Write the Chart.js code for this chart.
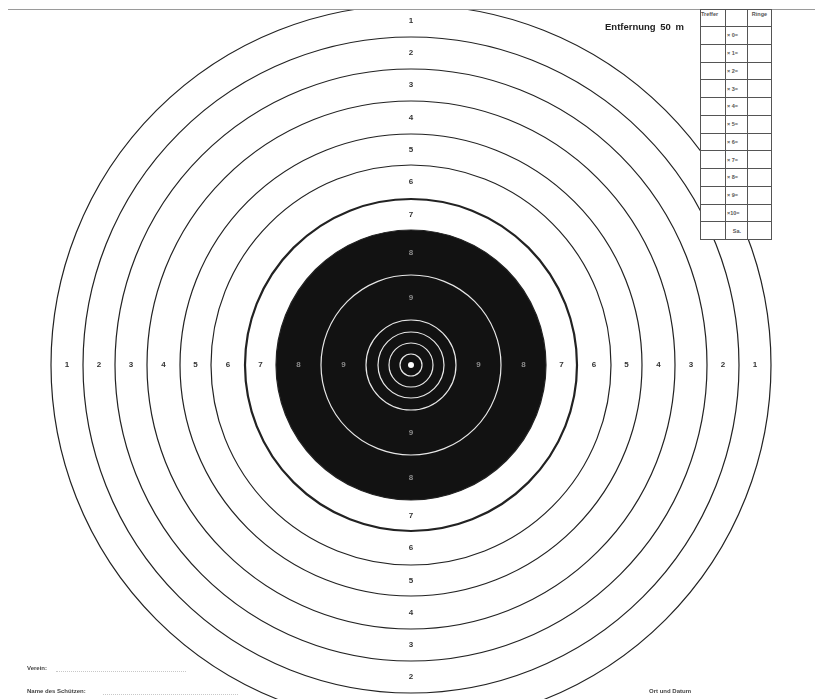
<!DOCTYPE html>
<html lang="de">
<head>
    <meta charset="UTF-8">
    <title>Scheibe 50 m</title>
    <script src="https://cdn.jsdelivr.net/npm/chart.js"></script>
    <style>
        body { margin: 0; width: 815px; height: 699px; overflow: hidden; background: #fff; font-family: 'Liberation Sans', Arial, sans-serif; }
        #wrap { position: absolute; left: 0; top: 0; }
        #target { display: block; }
        .topcut { position: absolute; left: 0; top: 0; width: 815px; height: 9px; background: #fff; }
        .topline { position: absolute; left: 8px; top: 9px; width: 807px; height: 1px; background: #9a9a9a; }
        .dist { position: absolute; left: 605px; top: 21px; font-size: 9.5px; font-weight: bold; color: #222; word-spacing: 2px; }
        #score { position: absolute; left: 700px; top: 9px; border-collapse: collapse; background: #fff; }
        #score td { border: 1px solid #555; padding: 0; font-size: 5.5px; font-weight: bold; color: #555; height: 16.75px; }
        #score tr.head td { height: 15px; vertical-align: top; padding-top: 1px; }
        #score td.c1 { width: 24px; } #score td.c2 { width: 20px; text-align: left; padding-left: 1px; } #score td.c3 { width: 23px; text-align: center; }
        .foot { position: absolute; font-size: 6px; font-weight: bold; color: #444; }
        .dots { position: absolute; height: 0; border-bottom: 1px dotted #c8c8c8; }
    </style>
</head>
<body>
    <div id="wrap"><canvas id="target" width="815" height="730"></canvas></div>
    <div class="topcut"></div>
    <div class="topline"></div>
    <div class="dist">Entfernung 50 m</div>
    <table id="score"><tbody></tbody></table>
    <div class="foot" style="left:27px; top:665px;">Verein:</div>
    <div class="dots" style="left:56px; top:671px; width:130px;"></div>
    <div class="foot" style="left:27px; top:688px;">Name des Schützen:</div>
    <div class="dots" style="left:103px; top:694px; width:135px;"></div>
    <div class="foot" style="left:649px; top:688px;">Ort und Datum</div>

    <script>
        // ring boundaries (radius, same unit as the scale max)
        const ringRadii = [11, 22, 33, 45, 90, 135, 166, 200, 231, 264, 296, 328, 360];
        // black aiming disk (ring 8 outer edge)
        const blackDisk = [135];
        // numbered rings: label, outer and inner boundary
        const ringNumbers = ['1', '2', '3', '4', '5', '6', '7', '8', '9'];
        const ringOuter = [360, 328, 296, 264, 231, 200, 166, 135, 90];
        const ringInner = [328, 296, 264, 231, 200, 166, 135, 90, 45];
        // score card rows
        const tableRows = ['× 0=', '× 1=', '× 2=', '× 3=', '× 4=', '× 5=', '× 6=', '× 7=', '× 8=', '× 9=', '×10=', 'Sa.'];

        // Score table
        const tbody = document.querySelector('#score tbody');
        tbody.innerHTML = '<tr class="head"><td class="c1">Treffer</td><td class="c2"></td><td class="c3">Ringe</td></tr>';
        tableRows.forEach(r => {
            const row = document.createElement('tr');
            const mid = r === 'Sa.' ? 'style="text-align:center"' : '';
            row.innerHTML = `<td class="c1"></td><td class="c2" ${mid}>${r}</td><td class="c3"></td>`;
            tbody.appendChild(row);
        });

        // Ring numbers on the four axes
        const ringLabels = {
            id: 'ringLabels',
            afterDraw(chart) {
                const s = chart.scales.r;
                const c = chart.ctx;
                c.save();
                c.font = 'bold 8px "Liberation Sans", Arial, sans-serif';
                c.textAlign = 'center';
                c.textBaseline = 'middle';
                ringNumbers.forEach((n, i) => {
                    const d = s.getDistanceFromCenterForValue((ringOuter[i] + ringInner[i]) / 2);
                    c.fillStyle = ringOuter[i] <= blackDisk[0] ? '#8c8c8c' : '#333';
                    c.fillText(n, s.xCenter, s.yCenter - d);
                    c.fillText(n, s.xCenter, s.yCenter + d);
                    c.fillText(n, s.xCenter - d, s.yCenter);
                    c.fillText(n, s.xCenter + d, s.yCenter);
                });
                // centre dot
                c.fillStyle = '#fff';
                c.beginPath();
                c.arc(s.xCenter, s.yCenter, 3, 0, Math.PI * 2);
                c.fill();
                c.restore();
            }
        };

        const ctx = document.getElementById('target').getContext('2d');
        new Chart(ctx, {
            type: 'polarArea',
            data: {
                labels: ['8'],
                datasets: [{ data: blackDisk, backgroundColor: '#121212', borderWidth: 0 }]
            },
            options: {
                responsive: false,
                animation: false,
                layout: { padding: { left: 51, right: 44, top: 5, bottom: 5 } },
                plugins: { legend: { display: false }, tooltip: { enabled: false } },
                scales: {
                    r: {
                        min: 0,
                        max: 360,
                        ticks: { display: false, z: 1 },
                        angleLines: { display: false },
                        pointLabels: { display: false },
                        afterBuildTicks: scale => { scale.ticks = [0, ...ringRadii].map(v => ({ value: v })); },
                        grid: {
                            z: 1,
                            circular: true,
                            color: c => c.tick.value < blackDisk[0] ? '#e8e8e8' : '#222',
                            lineWidth: c => c.tick.value === 166 ? 2.2 : 1.2
                        }
                    }
                }
            },
            plugins: [ringLabels]
        });
    </script>
</body>
</html>
